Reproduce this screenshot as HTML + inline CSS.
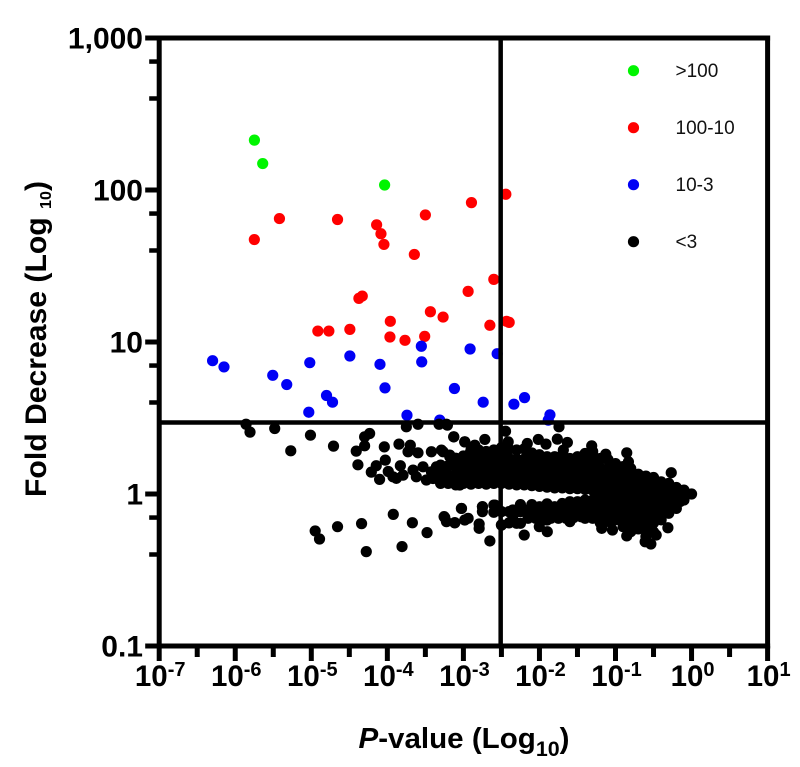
<!DOCTYPE html>
<html lang="en">
<head>
<meta charset="utf-8">
<title>Fold Decrease vs P-value</title>
<style>
html,body{margin:0;padding:0;background:#fff;}
svg{display:block;font-family:"Liberation Sans",sans-serif;filter:blur(0.35px);}
</style>
</head>
<body>
<svg id="chart" xmlns="http://www.w3.org/2000/svg" width="800" height="767" viewBox="0 0 800 767">
  <rect x="0" y="0" width="800" height="767" fill="#fff"/>
  <g id="marks"></g>
  <g id="axes"></g>
  <text transform="translate(46,339) rotate(-90)" text-anchor="middle" font-size="30" font-weight="bold" fill="#000" textLength="316" lengthAdjust="spacingAndGlyphs">Fold Decrease (Log <tspan font-size="16" dy="5">10</tspan><tspan dy="-5">)</tspan></text>
  <text x="464" y="748" text-anchor="middle" font-size="29" font-weight="bold" fill="#000" textLength="211" lengthAdjust="spacingAndGlyphs"><tspan font-style="italic">P</tspan>-value (Log<tspan font-size="21" dy="8">10</tspan><tspan dy="-8">)</tspan></text>
  <g id="legend"></g>
</svg>
<script>
// Tick data
const xTickExponents = [-7, -6, -5, -4, -3, -2, -1, 0, 1];
const xMinorTicks = [-6.5, -5.5, -4.5, -3.5, -2.5, -1.5, -0.5, 0.5];
const yTickLogValues = [3, 2, 1, 0, -1];
const yTickLabels = ["1,000", "100", "10", "1", "0.1"];
const yMinorTicks = [2.845, 2.602, 1.845, 1.602, 0.845, 0.602, -0.155, -0.398];

// Thresholds
const pThresholdLog = -2.51;
const foldThresholdLog = 0.47;

// Legend
const legendLabels = [">100", "100-10", "10-3", "<3"];
const legendColors = ["#00f500", "#ff0000", "#0000f5", "#000000"];

// Series: log10(P-value) and log10(fold decrease)
const greenLogP = [-5.748, -5.639, -4.036];
const greenLogFold = [2.328, 2.174, 2.033];

const redLogP = [-5.419, -5.749, -4.655, -4.141, -4.084, -4.045, -3.500, -3.645, -2.894, -2.442,
  -2.600, -2.938, -4.330, -4.374, -3.434, -3.267, -3.961, -4.914, -4.769, -4.493,
  -3.966, -3.768, -3.509, -2.652, -2.433, -2.398];
const redLogFold = [1.812, 1.674, 1.806, 1.771, 1.712, 1.642, 1.836, 1.576, 1.917, 1.972,
  1.412, 1.333, 1.302, 1.287, 1.199, 1.164, 1.136, 1.072, 1.072, 1.083,
  1.033, 1.011, 1.037, 1.110, 1.136, 1.129];

const blueLogP = [-6.298, -6.148, -5.507, -5.323, -5.020, -5.033, -4.800, -4.721, -4.493, -4.097,
  -4.031, -3.742, -3.553, -3.548, -3.118, -3.311, -2.912, -2.556, -2.740, -2.336,
  -2.196, -1.862, -1.884];
const blueLogFold = [0.877, 0.836, 0.781, 0.720, 0.864, 0.538, 0.648, 0.604, 0.908, 0.853,
  0.698, 0.518, 0.972, 0.869, 0.694, 0.486, 0.954, 0.923, 0.604, 0.591,
  0.634, 0.521, 0.486];

const blackLogP = [
  -5.858, -5.806, -5.481, -5.011, -5.270, -4.708, -4.409, -4.299, -4.299, -4.233,
  -4.040, -4.027, -4.387, -4.146, -4.211, -4.102, -3.988, -3.926, -3.847, -3.698,
  -3.728, -3.597, -3.829, -3.750, -3.597, -3.320, -3.210, -3.127, -2.982, -3.421,
  -3.289, -3.179, -3.662, -3.531, -3.355, -3.487, -3.223, -3.048, -3.794, -3.619,
  -3.399, -3.267, -3.092, -2.960, -2.916, -3.421, -3.882,
  -3.026, -3.922, -3.671, -3.478, -3.254, -3.223, -3.114, -2.982, -4.339, -4.655,
  -4.949, -4.892, -4.277, -3.807,
  -3.223, -3.127, -2.982, -2.850, -2.718, -2.446, -2.411, -2.015, -1.914, -1.765,
  -1.743, -1.633, -1.686, -1.313, -1.128, -0.852, -0.830, -0.267, -2.160,
  -3.245, -3.113, -2.938, -3.025, -2.793, -2.793, -2.652, -2.749, -2.586, -2.200,
  -2.499, -1.897, -2.002, -1.181, -1.040, -0.852, -0.610, -0.535, -0.465, -0.311,
  -3.267, -3.179, -3.289, -3.232,
  -3.30, -3.30, -3.30,
  -3.20, -3.20, -3.20,
  -3.10, -3.10, -3.10, -3.10,
  -3.00, -3.00, -3.00, -3.00,
  -2.90, -2.90, -2.90, -2.90, -2.90,
  -2.80, -2.80, -2.80, -2.80, -2.80,
  -2.70, -2.70, -2.70, -2.70, -2.70,
  -2.60, -2.60, -2.60, -2.60, -2.60,
  -2.50, -2.50, -2.50, -2.50, -2.50,
  -2.40, -2.40, -2.40, -2.40, -2.40,
  -2.30, -2.30, -2.30, -2.30, -2.30,
  -2.20, -2.20, -2.20, -2.20, -2.20,
  -2.10, -2.10, -2.10, -2.10, -2.10,
  -2.00, -2.00, -2.00, -2.00, -2.00,
  -1.90, -1.90, -1.90, -1.90, -1.90,
  -1.80, -1.80, -1.80, -1.80, -1.80,
  -1.70, -1.70, -1.70, -1.70, -1.70,
  -1.60, -1.60, -1.60, -1.60, -1.60,
  -1.50, -1.50, -1.50, -1.50, -1.50,
  -1.40, -1.40, -1.40, -1.40, -1.40,
  -1.30, -1.30, -1.30, -1.30, -1.30, -1.30,
  -1.20, -1.20, -1.20, -1.20, -1.20, -1.20, -1.20, -1.20,
  -1.10, -1.10, -1.10, -1.10, -1.10, -1.10, -1.10, -1.10,
  -1.00, -1.00, -1.00, -1.00, -1.00, -1.00, -1.00,
  -0.90, -0.90, -0.90, -0.90, -0.90, -0.90, -0.90, -0.90,
  -0.80, -0.80, -0.80, -0.80, -0.80, -0.80, -0.80, -0.80,
  -0.70, -0.70, -0.70, -0.70, -0.70, -0.70, -0.70,
  -0.60, -0.60, -0.60, -0.60, -0.60, -0.60, -0.60, -0.60,
  -0.50, -0.50, -0.50, -0.50, -0.50, -0.50, -0.50,
  -0.40, -0.40, -0.40, -0.40, -0.40,
  -0.30, -0.30, -0.30, -0.30,
  -0.20, -0.20, -0.20,
  -0.10, -0.10,
  0.00,
  -2.75, -2.75,
  -2.60, -2.60,
  -2.50, -2.50,
  -2.40, -2.40,
  -2.30, -2.30,
  -2.25, -2.25, -2.25,
  -2.10, -2.10,
  -2.00, -2.00,
  -1.90, -1.90, -1.90,
  -1.80, -1.80,
  -1.70, -1.70,
  -1.60, -1.60, -1.60,
  -1.50, -1.50,
  -1.40, -1.40, -1.40,
  -1.30, -1.30, -1.30,
  -2.95, -2.95, -2.95,
  -2.85, -2.85, -2.85,
  -2.75, -2.75, -2.75,
  -2.65, -2.65, -2.65,
  -2.55, -2.55, -2.55,
  -2.45, -2.45, -2.45,
  -2.35, -2.35, -2.35,
  -2.25, -2.25, -2.25,
  -2.15, -2.15, -2.15,
  -2.05, -2.05, -2.05,
  -1.95, -1.95, -1.95,
  -1.85, -1.85, -1.85,
  -1.75, -1.75, -1.75,
  -1.65, -1.65, -1.65,
  -1.55, -1.55, -1.55,
  -1.45, -1.45, -1.45,
  -1.35, -1.35, -1.35,
  -1.25, -1.25, -1.25, -1.25, -1.25,
  -1.15, -1.15, -1.15, -1.15, -1.15,
  -1.05, -1.05, -1.05, -1.05, -1.05,
  -0.95, -0.95, -0.95, -0.95, -0.95,
  -0.85, -0.85, -0.85, -0.85, -0.85,
  -0.75, -0.75, -0.75, -0.75, -0.75,
  -0.65, -0.65, -0.65, -0.65, -0.65,
  -0.55, -0.55, -0.55, -0.55, -0.55,
  -0.45, -0.45, -0.45, -0.45, -0.45,
  -0.35, -0.35, -0.35, -0.35, -0.35,
  -0.25, -0.25,
  -0.15, -0.15,
  -2.35, -2.35,
  -2.15, -2.15,
  -2.05, -2.05,
  -1.95, -1.95,
  -1.85, -1.85,
  -1.75, -1.75,
  -1.65, -1.65,
  -1.55, -1.55,
  -1.45, -1.45,
  -1.35, -1.35
];
const blackLogFold = [
  0.459, 0.407, 0.431, 0.387, 0.284, 0.315, 0.282, 0.317, 0.376, 0.398,
  0.310, 0.223, 0.192, 0.186, 0.144, 0.096, 0.148, 0.113, 0.328, 0.321,
  0.278, 0.271, 0.186, 0.442, 0.459, 0.459, 0.453, 0.376, 0.343, 0.278,
  0.289, 0.245, 0.157, 0.179, 0.179, 0.092, 0.092, 0.059, 0.124, 0.113,
  0.102, 0.157, 0.135, 0.201, 0.267, 0.146, 0.103,
  -0.095, -0.134, -0.189, -0.254, -0.149, -0.182, -0.189, -0.171, -0.195, -0.215,
  -0.243, -0.296, -0.379, -0.346,
  0.459, 0.376, 0.343, 0.321, 0.359, 0.413, 0.343, 0.359, 0.328, 0.361,
  0.442, 0.339, 0.289, 0.317, 0.262, 0.271, 0.212, 0.140, 0.332,
  -0.154, -0.189, -0.160, -0.095, -0.197, -0.226, -0.309, -0.084, -0.073, -0.270,
  -0.204, -0.248, -0.215, -0.226, -0.237, -0.276, -0.314, -0.329, -0.270, -0.222,
  0.278, 0.256, 0.168, 0.081,
  0.070, 0.130, 0.190,
  0.070, 0.125, 0.185,
  0.060, 0.120, 0.180, 0.235,
  0.070, 0.130, 0.190, 0.250,
  0.065, 0.125, 0.185, 0.245, 0.290,
  0.070, 0.130, 0.190, 0.250, 0.290,
  0.065, 0.125, 0.185, 0.245, 0.280,
  0.070, 0.130, 0.190, 0.250, 0.290,
  0.070, 0.130, 0.190, 0.250, 0.305,
  0.065, 0.115, 0.175, 0.235, 0.295,
  0.060, 0.110, 0.170, 0.230, 0.290,
  0.060, 0.110, 0.170, 0.230, 0.297,
  0.055, 0.105, 0.165, 0.225, 0.270,
  0.050, 0.097, 0.157, 0.217, 0.258,
  0.045, 0.090, 0.150, 0.210, 0.245,
  0.040, 0.086, 0.146, 0.206, 0.245,
  0.040, 0.086, 0.146, 0.206, 0.256,
  0.035, 0.086, 0.146, 0.206, 0.234,
  0.035, 0.086, 0.146, 0.206, 0.245,
  0.030, 0.086, 0.146, 0.206, 0.267,
  0.025, 0.075, 0.135, 0.195, 0.250, 0.280,
  0.234, 0.175, 0.115, 0.055, -0.005, -0.065, -0.125, -0.190,
  0.227, 0.165, 0.105, 0.045, -0.015, -0.075, -0.130, -0.180,
  0.200, 0.140, 0.080, 0.020, -0.040, -0.100, -0.170,
  0.180, 0.120, 0.060, 0.000, -0.060, -0.120, -0.180, -0.215,
  0.168, 0.110, 0.050, -0.010, -0.070, -0.130, -0.190, -0.248,
  0.130, 0.070, 0.010, -0.050, -0.110, -0.170, -0.230,
  0.118, 0.060, 0.000, -0.060, -0.120, -0.180, -0.240, -0.280,
  0.109, 0.050, -0.010, -0.070, -0.130, -0.190, -0.250,
  0.080, 0.020, -0.040, -0.100, -0.170,
  0.070, 0.010, -0.050, -0.127,
  0.043, -0.020, -0.095,
  0.026, -0.040,
  0.000,
  -0.084, -0.116,
  -0.073, -0.120,
  -0.116, -0.204,
  -0.116, -0.190,
  -0.116, -0.193,
  -0.070, -0.116, -0.193,
  -0.070, -0.138,
  -0.084, -0.160,
  -0.065, -0.105, -0.171,
  -0.084, -0.149,
  -0.062, -0.127,
  -0.051, -0.116, -0.182,
  -0.051, -0.116,
  -0.040, -0.105, -0.160,
  -0.040, -0.105, -0.160,
  0.100, 0.160, 0.220,
  0.100, 0.160, 0.220,
  0.100, 0.160, 0.220,
  0.100, 0.160, 0.220,
  0.100, 0.160, 0.220,
  0.100, 0.160, 0.220,
  0.100, 0.160, 0.220,
  0.100, 0.160, 0.220,
  0.100, 0.160, 0.220,
  0.100, 0.160, 0.220,
  0.100, 0.160, 0.215,
  0.095, 0.155, 0.215,
  0.095, 0.155, 0.215,
  0.095, 0.155, 0.210,
  0.095, 0.155, 0.210,
  0.095, 0.155, 0.215,
  0.095, 0.155, 0.220,
  0.110, 0.050, -0.010, -0.070, -0.130,
  0.110, 0.050, -0.010, -0.070, -0.130,
  0.110, 0.050, -0.010, -0.070, -0.130,
  0.110, 0.050, -0.010, -0.070, -0.130,
  0.110, 0.050, -0.010, -0.070, -0.130,
  0.090, 0.040, -0.020, -0.080, -0.140,
  0.085, 0.030, -0.030, -0.090, -0.150,
  0.080, 0.030, -0.030, -0.090, -0.150,
  0.060, 0.010, -0.050, -0.110, -0.140,
  0.050, 0.000, -0.040, -0.090, -0.120,
  0.020, -0.060,
  0.010, -0.050,
  -0.105, -0.160,
  -0.105, -0.160,
  -0.105, -0.160,
  -0.105, -0.160,
  -0.105, -0.160,
  -0.105, -0.160,
  -0.105, -0.160,
  -0.100, -0.155,
  -0.095, -0.150,
  -0.090, -0.150
];

const SVG_NS = "http://www.w3.org/2000/svg";
const marksLayer = document.getElementById("marks");
const axesLayer = document.getElementById("axes");
const legendLayer = document.getElementById("legend");

function xScale(logP) { return 159.2 + (logP + 7) * 76.05; }
function yScale(logFold) { return 494 - logFold * 152; }

function addDot(parent, cx, cy, r, color, name) {
  const c = document.createElementNS(SVG_NS, "circle");
  c.setAttribute("cx", cx);
  c.setAttribute("cy", cy);
  c.setAttribute("r", r);
  c.setAttribute("fill", color);
  
  
  parent.appendChild(c);
}

function addLine(x1, y1, x2, y2, w, name) {
  const l = document.createElementNS(SVG_NS, "line");
  l.setAttribute("x1", x1);
  l.setAttribute("y1", y1);
  l.setAttribute("x2", x2);
  l.setAttribute("y2", y2);
  l.setAttribute("stroke", "#000");
  l.setAttribute("stroke-width", w);
  
  
  axesLayer.appendChild(l);
}

function drawSeries(xs, ys, color, name) {
  for (let i = 0; i < xs.length; i++) {
    addDot(marksLayer, xScale(xs[i]), yScale(ys[i]), 5.6, color, name);
  }
}
drawSeries(greenLogP, greenLogFold, legendColors[0], "point-over-100");
drawSeries(redLogP, redLogFold, legendColors[1], "point-100-to-10");
drawSeries(blueLogP, blueLogFold, legendColors[2], "point-10-to-3");
drawSeries(blackLogP, blackLogFold, legendColors[3], "point-under-3");

// Frame and threshold lines
const xLeft = xScale(xTickExponents[0]);
const xRight = xScale(xTickExponents[xTickExponents.length - 1]);
const yTop = yScale(yTickLogValues[0]);
const yBottom = yScale(yTickLogValues[yTickLogValues.length - 1]);
addLine(xLeft, yTop - 2.5, xLeft, yBottom + 2.5, 5, "y-axis-line");
addLine(xLeft - 2.5, yBottom, xRight + 2.5, yBottom, 5, "x-axis-line");
addLine(xLeft - 2.5, yTop, xRight + 2.5, yTop, 5, "top-border");
addLine(xRight, yTop - 2.5, xRight, yBottom + 2.5, 5, "right-border");
addLine(xScale(pThresholdLog), yTop, xScale(pThresholdLog), yBottom, 4.5, "p-value-threshold-line");
addLine(xLeft, yScale(foldThresholdLog), xRight, yScale(foldThresholdLog), 4.5, "fold-threshold-line");

// X ticks
xTickExponents.forEach(function (e) {
  const x = xScale(e);
  addLine(x, yBottom, x, yBottom + 15, 5, "x-major-tick");
  const t = document.createElementNS(SVG_NS, "text");
  t.setAttribute("x", x + 1);
  t.setAttribute("y", 686);
  t.setAttribute("text-anchor", "middle");
  t.setAttribute("font-size", "29.5");
  t.setAttribute("font-weight", "bold");
  t.setAttribute("fill", "#000");
  
  
  t.textContent = "10";
  const s = document.createElementNS(SVG_NS, "tspan");
  s.setAttribute("font-size", "20");
  s.setAttribute("dy", "-10");
  s.textContent = String(e);
  t.appendChild(s);
  axesLayer.appendChild(t);
});
xMinorTicks.forEach(function (e) {
  const x = xScale(e);
  addLine(x, yBottom, x, yBottom + 11, 5, "x-minor-tick");
});

// Y ticks
yTickLogValues.forEach(function (v, i) {
  const y = yScale(v);
  addLine(xLeft, y, xLeft - 14, y, 5, "y-major-tick");
  const t = document.createElementNS(SVG_NS, "text");
  t.setAttribute("x", 143);
  t.setAttribute("y", y + 10.5);
  t.setAttribute("text-anchor", "end");
  t.setAttribute("font-size", "30");
  t.setAttribute("font-weight", "bold");
  t.setAttribute("fill", "#000");
  
  
  t.textContent = yTickLabels[i];
  axesLayer.appendChild(t);
});
yMinorTicks.forEach(function (v) {
  const y = yScale(v);
  addLine(xLeft, y, xLeft - 10, y, 4.5, "y-minor-tick");
});

// Legend
legendLabels.forEach(function (label, i) {
  const y = 70.7 + i * 57;
  addDot(legendLayer, 633.5, y, 5.6, legendColors[i], "legend-marker");
  const t = document.createElementNS(SVG_NS, "text");
  t.setAttribute("x", 675.5);
  t.setAttribute("y", y + 6.5);
  t.setAttribute("font-size", "19");
  t.setAttribute("fill", "#111");
  
  
  t.textContent = label;
  legendLayer.appendChild(t);
});
</script>
</body>
</html>
